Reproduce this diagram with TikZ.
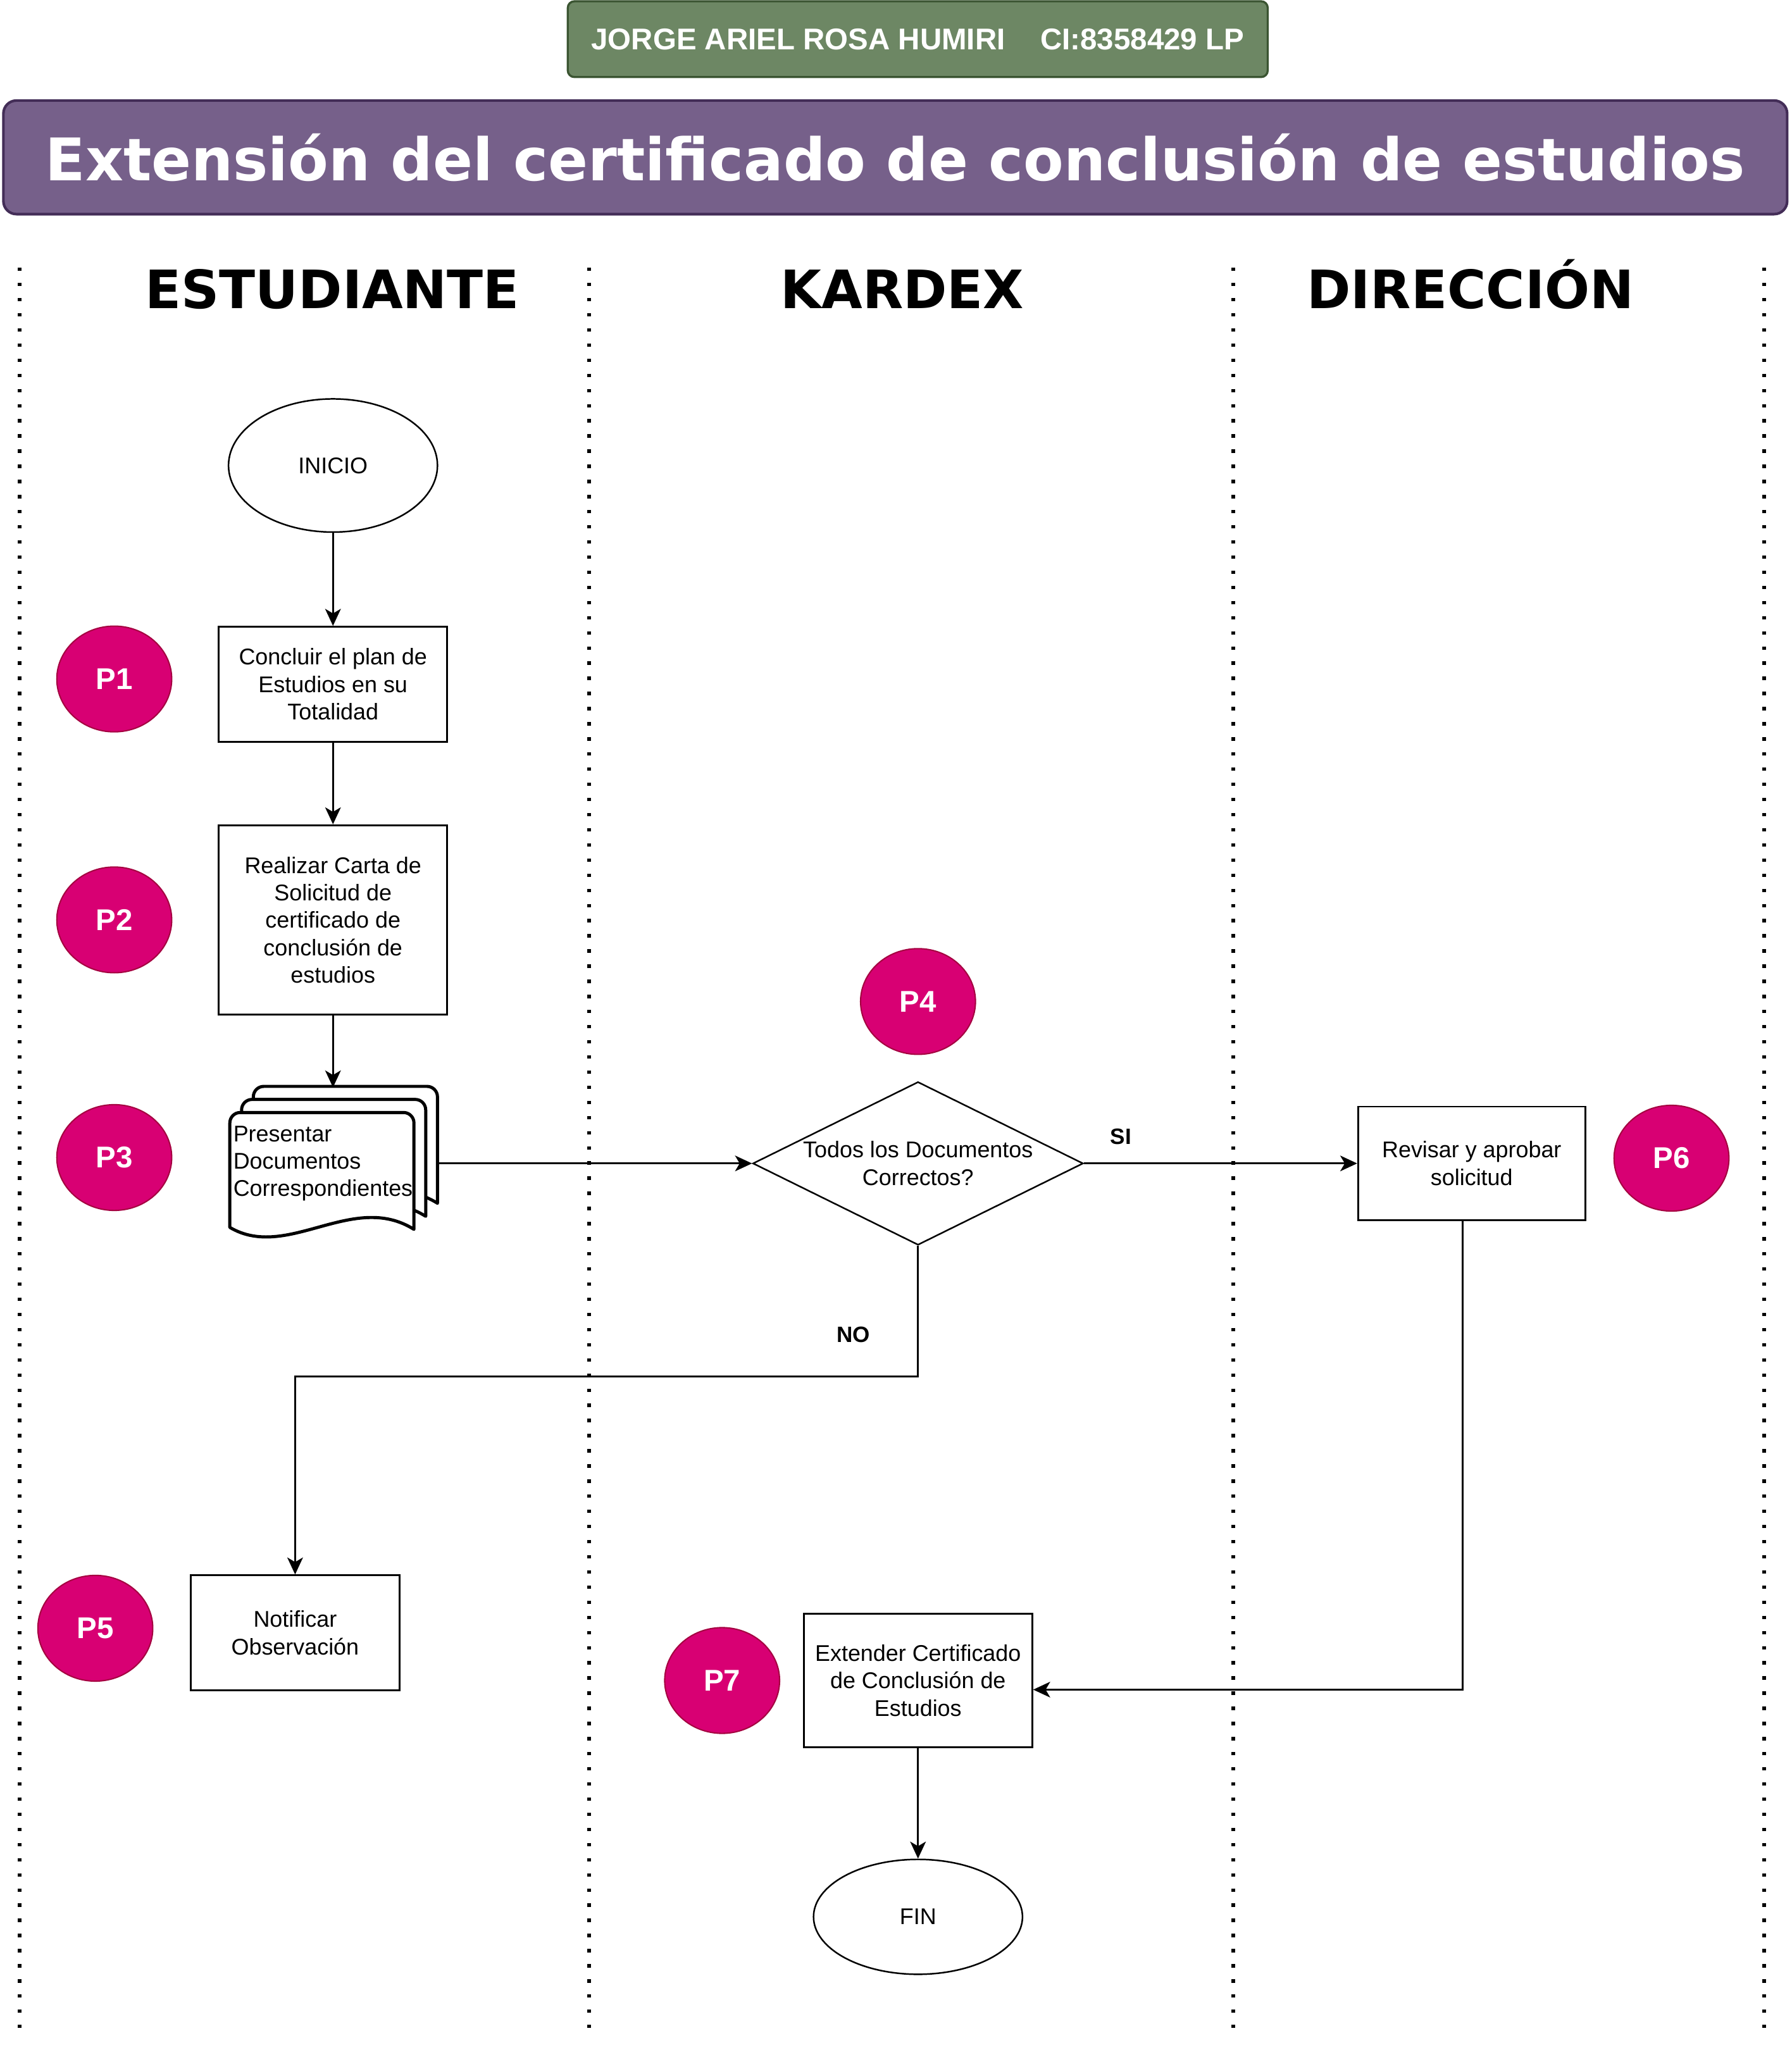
\documentclass[tikz,border=0pt]{standalone}
\usepackage{fontspec}
\setmainfont{Liberation Sans}
\newfontfamily\titulofont{DejaVu Sans}
\usetikzlibrary{shapes.geometric, arrows.meta}
\definecolor{pasofondo}{HTML}{D80073}
\definecolor{pasoborde}{HTML}{A50040}
\definecolor{autorfondo}{HTML}{6D8764}
\definecolor{autorborde}{HTML}{3A5431}
\definecolor{titulofondo}{HTML}{76608A}
\definecolor{tituloborde}{HTML}{432D57}
\newcommand\txtnodo{\fontsize{17.4}{21}\selectfont}
\tikzset{
    proceso/.style={draw, line width=1.4pt, minimum width=175pt, minimum height=88pt, inner sep=0pt, align=center, font=\txtnodo},
    terminal/.style={draw, ellipse, line width=1.2pt, minimum width=160pt, minimum height=102pt, inner sep=0pt, font=\txtnodo},
    paso/.style={draw=pasoborde, fill=pasofondo, ellipse, line width=1pt, minimum width=88pt, minimum height=81pt, inner sep=0pt, text=white, font=\fontsize{23}{27}\selectfont\bfseries},
    carril/.style={line width=3pt, dash pattern=on 2.6pt off 9pt},
    carriltit/.style={anchor=base, inner sep=0pt, font=\titulofont\fontsize{40.5}{48}\selectfont\bfseries},
    etiqueta/.style={inner sep=0pt, font=\fontsize{17}{20}\selectfont\bfseries},
    flecha/.style={line width=1.3pt, -{Stealth[length=13pt, width=12pt, inset=3.5pt]}}
}
\begin{document}
\begin{tikzpicture}[x=1pt, y=-1pt]
    \useasboundingbox (0,0) rectangle (1372,1570);
    \node[draw=autorborde, fill=autorfondo, line width=1.6pt, rounded corners=5pt, minimum width=536pt, minimum height=58pt, text=white, font=\fontsize{23}{27}\selectfont\bfseries] (autor) at (702.8,30) {JORGE ARIEL ROSA HUMIRI\hspace{27pt}CI:8358429 LP};
    \node[draw=tituloborde, fill=titulofondo, line width=2pt, rounded corners=10pt, minimum width=1366pt, minimum height=87pt, text=white, font=\titulofont\fontsize{45}{54}\selectfont\bfseries] (titulo) at (685.6,120.5) {Extensión del certificado de conclusión de estudios};
    \foreach \x in {15, 451, 944.5, 1351} {
        \draw[carril] (\x,205) -- (\x,1560);
    }
    \node[carriltit] (estudiante) at (254.5,236) {ESTUDIANTE};
    \node[carriltit] (kardex) at (691,236) {KARDEX};
    \node[carriltit] (direccion) at (1126,236) {DIRECCIÓN};
    \node[terminal] (inicio) at (255,356.5) {INICIO};
    \node[proceso] (concluir) at (255,524) {Concluir el plan de\\Estudios en su\\Totalidad};
    \node[proceso, minimum height=145pt] (carta) at (255,704.5) {Realizar Carta de\\Solicitud de\\certificado de\\conclusión de\\estudios};
    \node[minimum width=160pt, minimum height=116pt, inner sep=0pt] (docs) at (256,891) {};
    \foreach \dx/\dy in {18/-20, 9/-10, 0/0} {
        \filldraw[fill=white, line width=2.4pt, line join=round] (176+\dx,940+\dy) -- (176+\dx,860+\dy) arc[start angle=180, end angle=270, radius=8] -- (309+\dx,852+\dy) arc[start angle=270, end angle=360, radius=8] -- (317+\dx,941.5+\dy) .. controls (270+\dx,912+\dy) and (220+\dx,966+\dy) .. (176+\dx,940+\dy) -- cycle;
    }
    \node[anchor=west, align=left, inner sep=0pt, font=\txtnodo] (presentar) at (178.5,891) {Presentar\\Documentos\\Correspondientes};
    \node[draw, diamond, line width=1.2pt, minimum width=253pt, minimum height=125pt, inner sep=0pt, label={[align=center, font=\txtnodo]center:Todos los Documentos\\Correctos?}] (decision) at (703,891) {};
    \node[proceso, minimum width=174pt, minimum height=87pt] (revisar) at (1127,891) {Revisar y aprobar\\solicitud};
    \node[proceso, minimum width=160pt] (notificar) at (226,1250.5) {Notificar\\Observación};
    \node[proceso, minimum height=102pt] (extender) at (703,1287) {Extender Certificado\\de Conclusión de\\Estudios};
    \node[terminal, minimum height=88pt] (fin) at (703,1468) {FIN};
    \node[paso] (p1) at (87.5,520) {P1};
    \node[paso] (p2) at (87.5,704.5) {P2};
    \node[paso] (p3) at (87.5,886.5) {P3};
    \node[paso] (p4) at (703,767) {P4};
    \node[paso] (p5) at (73,1247) {P5};
    \node[paso] (p6) at (1280,887) {P6};
    \node[paso] (p7) at (553,1287) {P7};
    \draw[flecha] (inicio) -- (concluir);
    \draw[flecha] (concluir) -- (carta);
    \draw[flecha] (carta.south) -- (carta.south |- docs.north);
    \draw[flecha] (docs.east) -- (decision.west);
    \draw[flecha] (decision.east) -- (revisar.west) node[etiqueta, pos=0.135, above=14pt] {SI};
    \draw[flecha] (decision.south) -- ++(0,100) node[etiqueta, pos=0.68, left=36pt] {NO} -| (notificar.north);
    \draw[flecha] ([xshift=-7pt]revisar.south) |- ([yshift=-7pt]extender.east);
    \draw[flecha] (extender) -- (fin);
\end{tikzpicture}
\end{document}
